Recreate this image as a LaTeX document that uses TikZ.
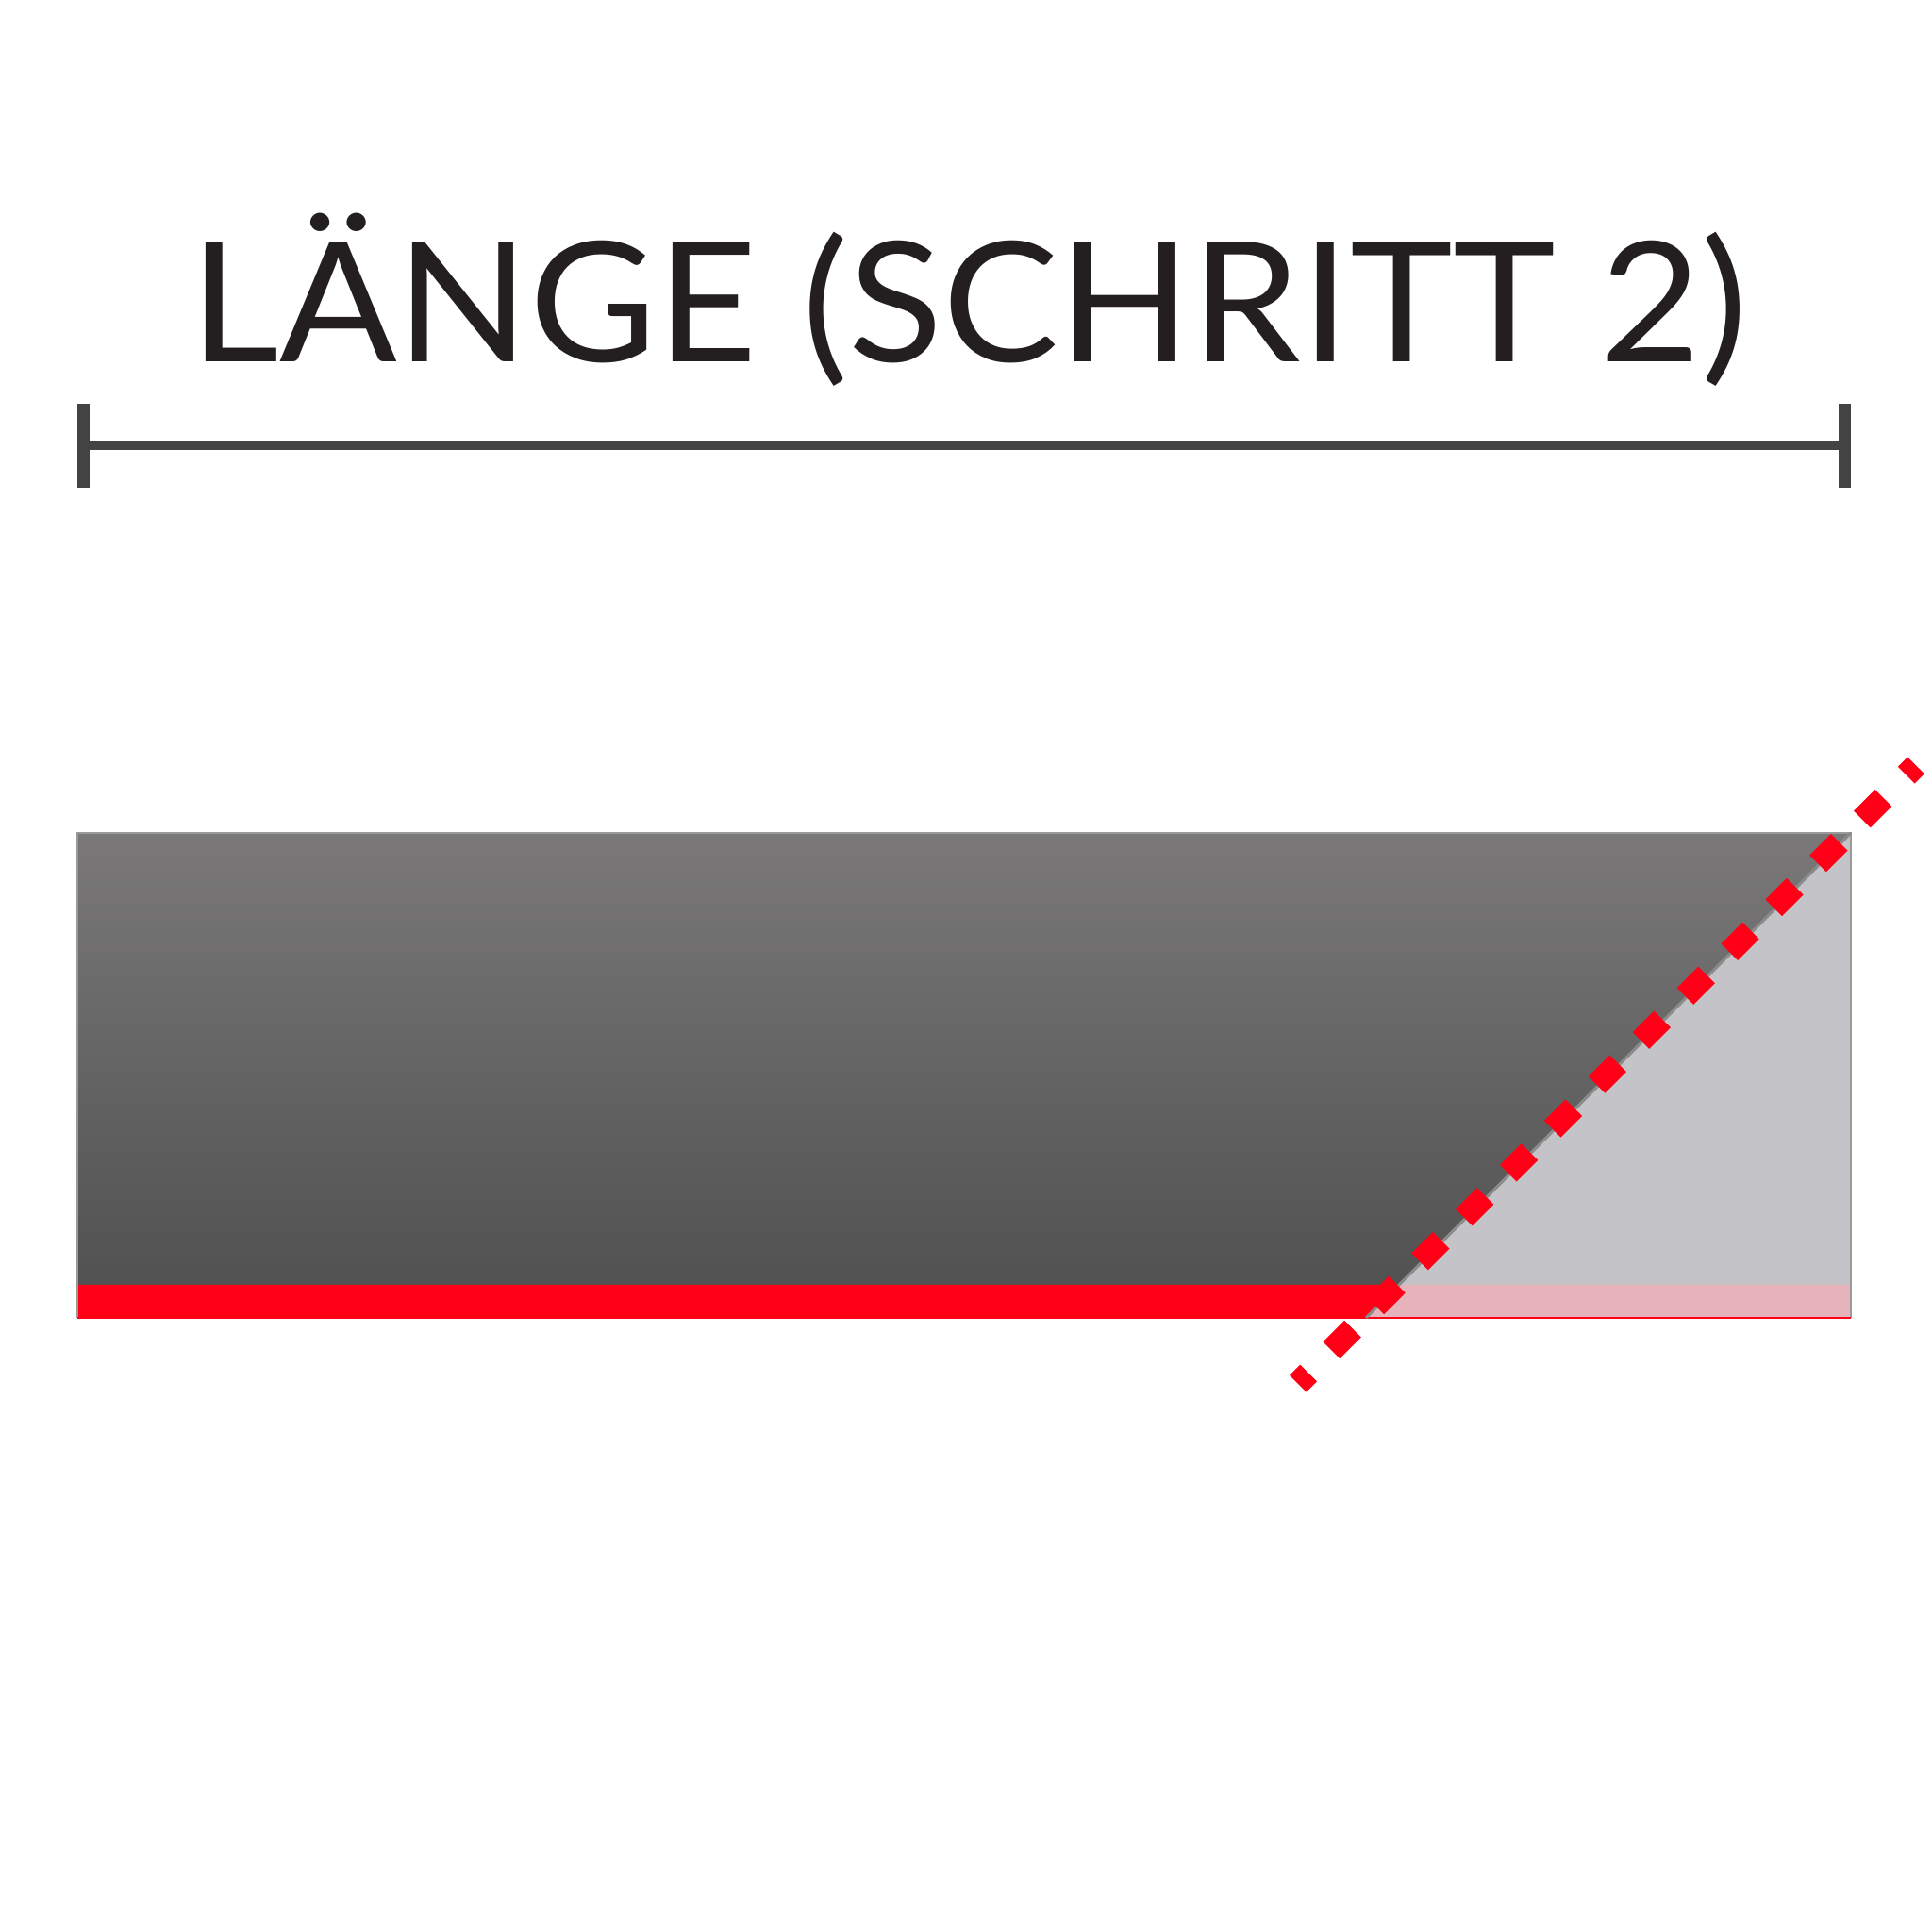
\documentclass[tikz,border=0pt]{standalone}
\usepackage{fontspec}
\setmainfont{Lato}
\usepackage{xcolor}
\usepackage{tikz}
\usetikzlibrary{calc}
\definecolor{textblack}{HTML}{231F20}
\definecolor{bargray}{HTML}{434343}
\definecolor{topgray}{HTML}{7A7878}
\definecolor{botgray}{HTML}{4F4F4F}
\definecolor{cutgray}{HTML}{C4C4C8}
\definecolor{cutred}{HTML}{FF0016}
\definecolor{cutpink}{HTML}{E5B3B9}
\definecolor{edgegray}{HTML}{9A9A9A}
\tikzset{
	dimline/.style={draw=bargray,line width=0.09cm},
	dimtick/.style={draw=bargray,line width=0.13cm},
	cutline/.style={draw=cutred,line width=0.25cm,dash pattern=on 0.32cm off 0.343cm,dash phase=0.16cm}
}

\begin{document}
\begin{tikzpicture}
	\useasboundingbox (0,0) rectangle (20.48,20.48);
	% title and dimension bar
	\node[anchor=base,text=textblack,inner sep=0pt,font=\fontsize{50.4pt}{60pt}\selectfont] (title) at (10.265,16.64) {\scalebox{1.041}[1]{LÄNGE (SCHRITT 2)}};
	\coordinate (dl) at (0.885,15.755);
	\coordinate (dr) at (19.55,15.755);
	\draw[dimline] (dl)--(dr);
	\draw[dimtick] ($(dl)+(0,-0.445)$)--($(dl)+(0,0.445)$);
	\draw[dimtick] ($(dr)+(0,-0.445)$)--($(dr)+(0,0.445)$);
	% board
	\coordinate (bl) at (0.82,6.51);
	\coordinate (tl) at (0.82,11.65);
	\coordinate (tr) at (19.62,11.65);
	\coordinate (br) at (19.62,6.51);
	\coordinate (cut) at (14.48,6.51);
	\coordinate (cuttop) at (14.83,6.86);
	\coordinate (lt) at (0.82,6.86);
	\coordinate (rt) at (19.62,6.86);
	\shade[top color=topgray,bottom color=botgray] (bl)--(tl)--(tr)--(cut)--cycle;
	\fill[cutgray] (cut)--(tr)--(br)--cycle;
	\fill[cutred] (bl)--(lt)--(cuttop)--(cut)--cycle;
	\fill[cutpink] (cut)--(cuttop)--(rt)--(br)--cycle;
	\draw[edgegray,line width=0.6pt] (bl)--(tl)--(tr)--(br);
	\draw[cutred,line width=0.6pt] (bl)--(br);
	\draw[edgegray!90!black,line width=0.03cm] (cut)--(tr);
	% cutting line
	\coordinate (ds) at (13.758,5.812);
	\coordinate (de) at (20.31,12.366);
	\draw[cutline] (ds)--(de);
\end{tikzpicture}
\end{document}
